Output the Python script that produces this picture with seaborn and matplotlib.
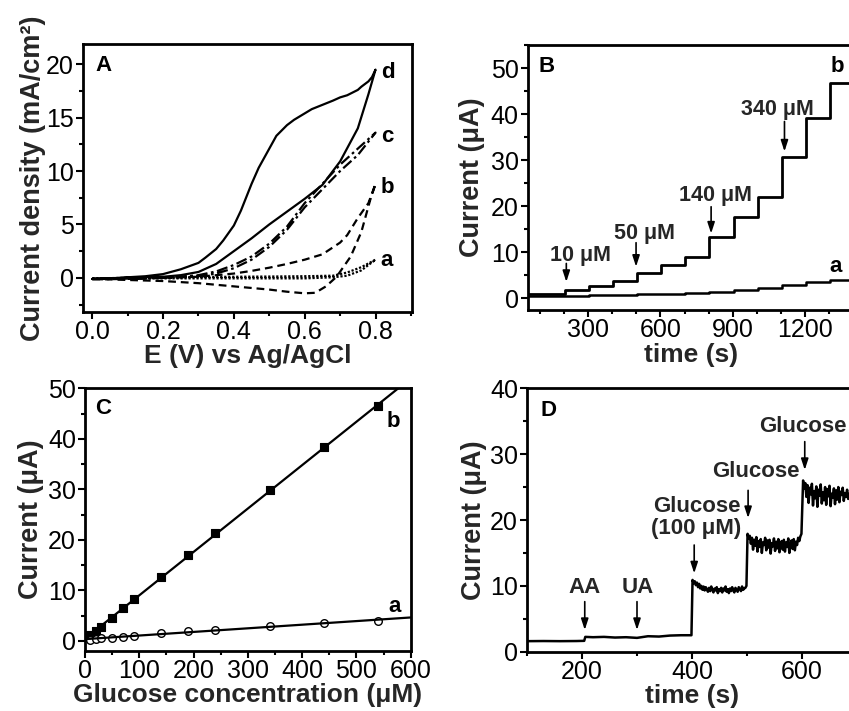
import numpy as np
import pandas as pd
import matplotlib
matplotlib.use("Agg")
import matplotlib.pyplot as plt
from matplotlib.ticker import MultipleLocator
import seaborn as sns

# ---------------- data ----------------
# Panel A: cyclic voltammograms (E in V, J in mA/cm2)
a_E_fwd = [0.0, 0.1, 0.2, 0.3, 0.4, 0.5, 0.6, 0.68, 0.72, 0.76, 0.8]
a_J_fwd = [-0.05, 0.0, 0.05, 0.08, 0.1, 0.12, 0.15, 0.2, 0.5, 1.0, 1.7]
a_E_rev = [0.8, 0.76, 0.72, 0.68, 0.6, 0.4, 0.2, 0.0]
a_J_rev = [1.7, 0.7, 0.2, 0.05, -0.05, -0.05, -0.05, -0.1]

b_E_fwd = [0.0, 0.1, 0.2, 0.3, 0.4, 0.5, 0.55, 0.6, 0.63, 0.66, 0.69, 0.73, 0.76, 0.785, 0.8]
b_J_fwd = [-0.1, -0.2, -0.3, -0.5, -0.8, -1.1, -1.3, -1.45, -1.4, -0.8, 0.1, 2.0, 4.3, 7.3, 8.8]
b_E_rev = [0.8, 0.78, 0.75, 0.72, 0.7, 0.65, 0.6, 0.55, 0.5, 0.45, 0.4, 0.35, 0.3, 0.2, 0.1, 0.0]
b_J_rev = [8.8, 7.0, 5.6, 4.0, 3.3, 2.2, 1.7, 1.3, 0.95, 0.65, 0.4, 0.25, 0.1, 0.0, -0.05, -0.1]

c_E_fwd = [0.0, 0.1, 0.2, 0.25, 0.3, 0.35, 0.4, 0.45, 0.5, 0.55, 0.6, 0.65, 0.7, 0.75, 0.8]
c_J_fwd = [-0.1, -0.05, 0.0, 0.1, 0.25, 0.6, 1.2, 2.0, 3.2, 4.8, 7.0, 8.8, 10.6, 12.1, 13.6]
c_E_rev = [0.8, 0.75, 0.7, 0.65, 0.6, 0.55, 0.5, 0.45, 0.4, 0.35, 0.3, 0.2, 0.1, 0.0]
c_J_rev = [13.6, 11.5, 10.0, 8.3, 6.6, 4.5, 2.9, 1.7, 0.9, 0.4, 0.15, 0.0, -0.1, -0.15]

d_E_fwd = [0.0, 0.05, 0.1, 0.15, 0.2, 0.25, 0.3, 0.32, 0.35, 0.37, 0.4, 0.42, 0.45, 0.47,
           0.5, 0.52, 0.55, 0.57, 0.6, 0.62, 0.65, 0.68, 0.7, 0.72, 0.75, 0.76, 0.78, 0.79, 0.8]
d_J_fwd = [-0.1, -0.05, 0.05, 0.15, 0.35, 0.8, 1.4, 1.9, 2.7, 3.5, 4.9, 6.3, 8.8, 10.3,
           12.1, 13.3, 14.3, 14.8, 15.4, 15.8, 16.2, 16.6, 16.9, 17.1, 17.6, 17.9, 18.4, 18.8, 19.5]
d_E_rev = [0.8, 0.78, 0.75, 0.7, 0.65, 0.6, 0.55, 0.5, 0.45, 0.4, 0.35, 0.3, 0.25, 0.2, 0.1, 0.0]
d_J_rev = [19.5, 17.2, 14.0, 10.9, 8.7, 7.4, 6.2, 5.0, 3.7, 2.5, 1.3, 0.55, 0.25, 0.1, 0.0, -0.1]

# Panel B: amperometric responses (time s, current uA), step levels
B_b_t = [50, 205, 305, 405, 503, 603, 703, 803, 903, 1003, 1103, 1203, 1303, 1400]
B_b_i = [0.95, 1.9, 2.8, 3.7, 5.5, 7.2, 9.0, 13.4, 17.7, 22.0, 30.8, 39.2, 46.8, 47.4]
B_a_t = [50, 205, 305, 405, 503, 603, 703, 803, 903, 1003, 1103, 1203, 1303, 1400]
B_a_i = [0.45, 0.55, 0.65, 0.75, 0.9, 1.05, 1.25, 1.5, 1.9, 2.35, 3.0, 3.5, 4.1, 4.2]

# Panel C: calibration
conc = [10, 20, 30, 50, 70, 90, 140, 190, 240, 340, 440, 540]
C_b = [1.2, 1.9, 2.8, 4.6, 6.5, 8.2, 12.7, 17.0, 21.3, 29.8, 38.3, 46.4]
C_a = [0.2, 0.45, 0.5, 0.65, 0.85, 1.0, 1.5, 1.9, 2.2, 2.85, 3.5, 4.0]

# Panel D: interference test
D_low_t = [100, 130, 160, 190, 204, 206, 220, 240, 260, 280, 300, 320, 340, 360, 380, 399]
D_low_i = [1.6, 1.62, 1.6, 1.62, 1.65, 2.25, 2.2, 2.25, 2.15, 2.2, 2.1, 2.35, 2.3, 2.45, 2.5, 2.5]
D_p1 = [10.9, 10.4, 10.7, 10.1, 10.5, 9.8, 10.3, 9.6, 10.0, 9.4, 9.9, 9.3, 9.8, 9.5, 9.1, 9.7,
        9.2, 9.9, 9.4, 9.0, 9.6, 9.3, 9.8, 8.9, 9.5, 9.2, 9.7, 9.0, 9.6, 9.3, 9.9, 9.1, 9.5,
        8.9, 9.6, 9.2, 9.8, 9.3, 9.0, 9.7, 9.4, 9.1, 9.8, 9.5, 9.2, 9.9, 9.4, 9.6, 9.7, 10.0]
D_p2 = [17.9, 17.2, 17.6, 16.4, 17.3, 15.5, 17.0, 16.1, 17.4, 15.2, 16.8, 15.9, 17.1, 15.0,
        16.6, 16.2, 17.3, 15.4, 16.9, 15.8, 17.0, 14.9, 16.5, 16.0, 17.2, 15.3, 16.7, 15.7,
        17.1, 15.1, 16.4, 16.8, 15.5, 17.0, 15.2, 16.6, 15.9, 17.2, 15.0, 16.3, 16.9, 15.6,
        17.1, 15.4, 16.7, 16.2, 17.3, 16.8, 17.5, 17.9]
D_p3 = [26.0, 24.8, 25.6, 23.5, 25.3, 22.6, 24.9, 23.9, 25.5, 22.2, 24.4, 23.3, 25.1, 22.0,
        24.6, 23.7, 25.4, 22.5, 24.2, 23.0, 25.0, 22.3, 24.7, 23.6, 25.2, 22.1, 24.0, 23.4,
        24.8, 22.4, 24.5, 23.1, 25.0, 22.7, 24.3, 23.8, 24.9, 22.9, 24.1, 23.5, 24.6, 23.2, 24.0]

# ---------------- style ----------------
sns.set_theme(style="ticks")
plt.rcParams["font.family"] = ["Liberation Sans", "DejaVu Sans"]
plt.rcParams.update({
    "axes.linewidth": 2.0,
    "axes.edgecolor": "black",
    "xtick.color": "black", "ytick.color": "black",
    "xtick.direction": "out", "ytick.direction": "out",
    "xtick.major.size": 5, "ytick.major.size": 5,
    "xtick.minor.size": 3, "ytick.minor.size": 3,
    "xtick.major.width": 1.5, "ytick.major.width": 1.5,
    "xtick.minor.width": 1.5, "ytick.minor.width": 1.5,
    "xtick.labelsize": 18, "ytick.labelsize": 18,
    "xtick.major.pad": 1.0, "ytick.major.pad": 1.5,
})

W, H = 849, 711
fig = plt.figure(figsize=(W / 100, H / 100), dpi=100)


def px_axes(left, top, right, bottom):
    return fig.add_axes([left / W, 1 - bottom / H, (right - left) / W, (bottom - top) / H])


axA = px_axes(83, 44, 412, 312)
axB = px_axes(527.7, 45, 853.5, 310)
axC = px_axes(85, 388.3, 410.7, 651)
axD = px_axes(527, 388.3, 857, 651.7)

XLAB = dict(fontsize=19, fontweight="bold")
YLAB = dict(fontsize=19.5, fontweight="bold", va="center")
TXT = dict(fontsize=16, fontweight="bold", color="black")
ARW = dict(arrowstyle="-|>,head_length=0.55,head_width=0.18", color="black", lw=1.2,
           shrinkA=0, shrinkB=0)


def arrow(ax, x, y0, y1):
    ax.annotate("", xy=(x, y1), xytext=(x, y0), arrowprops=ARW)


# ---------------- Panel A ----------------
ax = axA
curves = [
    (a_E_fwd + a_E_rev, a_J_fwd + a_J_rev, (0, (1, 0.8))),
    (b_E_fwd + b_E_rev, b_J_fwd + b_J_rev, (0, (3.5, 2.2))),
    (c_E_fwd + c_E_rev, c_J_fwd + c_J_rev, (0, (5, 1.6, 1.2, 1.6))),
    (d_E_fwd + d_E_rev, d_J_fwd + d_J_rev, "-"),
]
for E, J, ls in curves:
    sns.lineplot(x=E, y=J, sort=False, estimator=None, ax=ax, color="black",
                 linewidth=1.6, linestyle=ls)
ax.set_xlim(-0.026, 0.903)
ax.set_ylim(-3.2, 21.9)
ax.xaxis.set_minor_locator(MultipleLocator(0.1))
ax.yaxis.set_minor_locator(MultipleLocator(2.5))
ax.set_xticks([0.0, 0.2, 0.4, 0.6, 0.8])
ax.set_xticklabels(["0.0", "0.2", "0.4", "0.6", "0.8"])
ax.set_yticks([0, 5, 10, 15, 20])
ax.set_yticklabels(["0", "5", "10", "15", "20"])
ax.set_xlabel("E (V) vs Ag/AgCl", **XLAB)
ax.set_ylabel("Current density (mA/cm²)", **YLAB)
ax.xaxis.set_label_coords(0.5, -0.120)
ax.yaxis.set_label_coords(-0.152, 0.5)
ax.text(0.008, 19.9, "A", ha="left", va="center", **TXT)
for lab, yy in zip(["d", "c", "b", "a"], [19.2, 13.2, 8.5, 1.66]):
    ax.text(0.815, yy, lab, ha="left", va="center", **TXT)

# ---------------- Panel B ----------------
ax = axB
sns.lineplot(x=B_b_t, y=B_b_i, ax=ax, color="black", linewidth=2.0,
             drawstyle="steps-post", estimator=None, sort=False)
sns.lineplot(x=B_a_t, y=B_a_i, ax=ax, color="black", linewidth=1.8,
             drawstyle="steps-post", estimator=None, sort=False)
ax.set_xlim(50, 1400)
ax.set_ylim(-2.5, 55)
ax.set_xticks([300, 600, 900, 1200])
ax.xaxis.set_minor_locator(MultipleLocator(100))
ax.set_yticks([0, 10, 20, 30, 40, 50])
ax.yaxis.set_minor_locator(MultipleLocator(5))
ax.set_xlabel("time (s)", **XLAB)
ax.set_ylabel("Current (μA)", **YLAB)
ax.xaxis.set_label_coords(0.5, -0.125)
ax.yaxis.set_label_coords(-0.171, 0.5)
ax.text(96, 50.3, "B", ha="left", va="center", **TXT)
ax.text(1335, 50.3, "b", ha="center", va="center", **TXT)
ax.text(1325, 6.9, "a", ha="center", va="center", **TXT)
for lab, tx, ty, axx, y0, y1 in [
    ("10 μM", 268, 9.4, 210, 7.6, 3.6),
    ("50 μM", 534, 14.1, 499, 12.1, 6.9),
    ("140 μM", 828, 22.3, 810, 19.9, 14.1),
    ("340 μM", 1086, 40.9, 1114, 38.4, 31.9),
]:
    ax.text(tx, ty, lab, ha="center", va="center", fontsize=15.5, fontweight="bold")
    arrow(ax, axx, y0, y1)

# ---------------- Panel C ----------------
ax = axC
ax.set_xlim(0, 600)
sns.regplot(x=conc, y=C_b, ax=ax, ci=None, truncate=False, color="black", marker="s",
            scatter_kws=dict(s=28, edgecolor="black", linewidths=0.8, alpha=1),
            line_kws=dict(linewidth=1.6))
sns.regplot(x=conc, y=C_a, ax=ax, ci=None, truncate=False, color="black", marker="o",
            scatter_kws=dict(s=30, facecolors="white", edgecolors="black", linewidths=1.0, alpha=1),
            line_kws=dict(linewidth=1.6))
ax.set_xlim(0, 600)
ax.set_ylim(-2, 50)
ax.set_xticks([0, 100, 200, 300, 400, 500, 600])
ax.xaxis.set_minor_locator(MultipleLocator(50))
ax.set_yticks([0, 10, 20, 30, 40, 50])
ax.yaxis.set_minor_locator(MultipleLocator(5))
ax.set_xlabel("Glucose concentration (μM)", **XLAB)
ax.set_ylabel("Current (μA)", **YLAB)
ax.xaxis.set_label_coords(0.5, -0.122)
ax.yaxis.set_label_coords(-0.166, 0.5)
ax.text(18, 46, "C", ha="left", va="center", **TXT)
ax.text(568, 43.4, "b", ha="center", va="center", **TXT)
ax.text(571, 6.8, "a", ha="center", va="center", **TXT)

# ---------------- Panel D ----------------
ax = axD
D_t = list(D_low_t) + list(401 + 2 * np.arange(len(D_p1))) + \
      list(501 + 2 * np.arange(len(D_p2))) + list(602 + 2 * np.arange(len(D_p3)))
D_i = list(D_low_i) + D_p1 + D_p2 + D_p3
sns.lineplot(x=D_t, y=D_i, ax=ax, color="black", linewidth=1.8, estimator=None, sort=False)
ax.set_xlim(100, 700)
ax.set_ylim(0, 40)
ax.set_xticks([200, 400, 600])
ax.xaxis.set_minor_locator(MultipleLocator(100))
ax.set_yticks([0, 10, 20, 30, 40])
ax.yaxis.set_minor_locator(MultipleLocator(5))
ax.set_xlabel("time (s)", **XLAB)
ax.set_ylabel("Current (μA)", **YLAB)
ax.xaxis.set_label_coords(0.5, -0.121)
ax.yaxis.set_label_coords(-0.161, 0.5)
ax.text(124, 36.7, "D", ha="left", va="center", **TXT)
for lab, tx, ty, axx, y0, y1, ha in [
    ("AA", 205, 9.8, 205, 7.6, 3.3, "center"),
    ("UA", 302, 9.8, 300, 7.6, 3.3, "center"),
    ("Glucose\n(100 μM)", 408, 20.4, 404, 16.2, 11.9, "center"),
    ("Glucose", 516, 27.3, 502, 24.5, 20.3, "center"),
    ("Glucose", 681, 34.2, 605, 31.9, 27.6, "right"),
]:
    ax.text(tx, ty, lab, ha=ha, va="center", fontsize=16, fontweight="bold",
            linespacing=1.05, multialignment="center")
    arrow(ax, axx, y0, y1)

for a in (axA, axB, axC, axD):
    for s in a.spines.values():
        s.set_visible(True)
        s.set_linewidth(2.0)
        s.set_color("black")
    a.tick_params(which="both", top=False, right=False)

fig.savefig("out.png", dpi=100)
